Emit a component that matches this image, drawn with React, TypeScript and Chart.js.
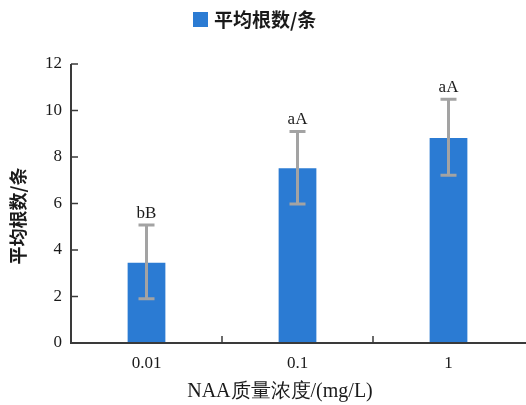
import React, { useEffect, useRef } from "react";
import { Chart, registerables } from "chart.js";

Chart.register(...registerables);

const categories = ["0.01", "0.1", "1"];
const meanValues = [3.45, 7.52, 8.82];
const errLow = [1.9, 5.98, 7.22];
const errHigh = [5.07, 9.1, 10.48];
const sigLabels = ["bB", "aA", "aA"];
const yTicks = [0, 2, 4, 6, 8, 10, 12];
const seriesName = "平均根数/条";
const xTitle = "NAA质量浓度/(mg/L)";
const yTitle = "平均根数/条";

const BAR = "#2b7bd3";
const ERR = "#a3a3a3";
const AXIS = "#3a3a3a";
const SERIF = "'Liberation Serif', 'DejaVu Serif', serif";
const CJK = "'Noto Sans CJK SC', sans-serif";

export default function App() {
  const ref = useRef<HTMLCanvasElement>(null);
  useEffect(() => {
    document.body.style.margin = "0";
    const ctx = ref.current!.getContext("2d")!;
    const deco = {
      id: "deco",
      afterDatasetsDraw(chart: any) {
        const c = chart.ctx;
        const xs = chart.scales.x;
        const ys = chart.scales.y;
        const area = chart.chartArea;
        c.save();
        // error bars
        c.strokeStyle = ERR;
        c.lineWidth = 3;
        categories.forEach((_, i) => {
          const x = xs.getPixelForValue(i);
          const yt = ys.getPixelForValue(errHigh[i]);
          const yb = ys.getPixelForValue(errLow[i]);
          c.beginPath();
          c.moveTo(x, yt);
          c.lineTo(x, yb);
          c.moveTo(x - 8, yt);
          c.lineTo(x + 8, yt);
          c.moveTo(x - 8, yb);
          c.lineTo(x + 8, yb);
          c.stroke();
          c.fillStyle = "#1a1a1a";
          c.font = `17px ${SERIF}`;
          c.textAlign = "center";
          c.textBaseline = "alphabetic";
          c.fillText(sigLabels[i], x, yt - 7);
        });
        // axes
        c.strokeStyle = AXIS;
        c.lineWidth = 2;
        c.beginPath();
        c.moveTo(area.left, area.top);
        c.lineTo(area.left, area.bottom);
        c.lineTo(chart.width, area.bottom);
        c.stroke();
        c.lineWidth = 1.5;
        yTicks.forEach((v) => {
          const y = ys.getPixelForValue(v);
          c.beginPath();
          c.moveTo(area.left, y);
          c.lineTo(area.left + 7, y);
          c.stroke();
        });
        const half = (xs.getPixelForValue(1) - xs.getPixelForValue(0)) / 2;
        for (let i = 0; i < categories.length - 1; i++) {
          const x = xs.getPixelForValue(i) + half;
          c.beginPath();
          c.moveTo(x, area.bottom);
          c.lineTo(x, area.bottom - 7);
          c.stroke();
        }
        // legend
        c.fillStyle = BAR;
        c.fillRect(193, 12, 15, 15);
        c.fillStyle = "#1a1a1a";
        c.font = `bold 19px ${CJK}`;
        c.textAlign = "left";
        c.textBaseline = "middle";
        c.fillText(seriesName, 214, 20);
        // titles
        c.font = `20px ${SERIF}`;
        c.textAlign = "center";
        c.fillText(xTitle, 280, 392);
        c.translate(18, 216);
        c.rotate(-Math.PI / 2);
        c.font = `bold 18px ${CJK}`;
        c.fillText(yTitle, 0, 0);
        c.restore();
      },
    };
    const chart = new Chart(ctx, {
      type: "bar",
      data: {
        labels: categories,
        datasets: [
          {
            label: seriesName,
            data: meanValues,
            backgroundColor: BAR,
            barPercentage: 0.25,
            categoryPercentage: 1,
          },
        ],
      },
      options: {
        responsive: false,
        animation: false,
        layout: { padding: { top: 64, right: 2, left: 0, bottom: 0 } },
        plugins: { legend: { display: false }, tooltip: { enabled: false } },
        scales: {
          x: {
            grid: { display: false },
            border: { display: false },
            ticks: { color: "#1a1a1a", font: { family: SERIF, size: 17 }, padding: 2 },
            afterFit: (s: any) => {
              s.height = 62;
            },
          },
          y: {
            min: 0,
            max: 12,
            grid: { display: false },
            border: { display: false },
            ticks: { stepSize: 2, color: "#1a1a1a", font: { family: SERIF, size: 17 }, padding: 1 },
            afterFit: (s: any) => {
              s.width = 71;
            },
          },
        },
      },
      plugins: [deco],
    });
    return () => chart.destroy();
  }, []);
  return <canvas ref={ref} width={526} height={405} style={{ display: "block" }} />;
}
